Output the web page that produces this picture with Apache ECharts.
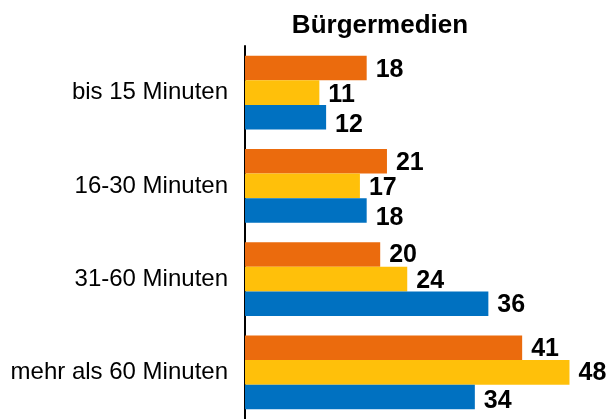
<!DOCTYPE html>
<html>
<head>
    <meta charset="utf-8">
    <title>Bürgermedien</title>
    <script src="https://cdn.jsdelivr.net/npm/echarts@6/dist/echarts.min.js"></script>
    <style>
      html, body { margin: 0; padding: 0; background: #fff; }
    </style>
</head>
<body>
    <div id="main" style="width: 611px;height:419px;"></div>
    <script type="text/javascript">
      // Kategorien und Werte
      var categories = ['bis 15 Minuten', '16-30 Minuten', '31-60 Minuten', 'mehr als 60 Minuten'];
      var orangeValues = [18, 21, 20, 41];
      var yellowValues = [11, 17, 24, 48];
      var blueValues = [12, 18, 36, 34];

      var font = 'Liberation Sans, Arial, sans-serif';

      // Beschriftungen leicht nach unten versetzt, wie im Original
      function barSeries(data, color, shifts) {
        return {
          type: 'bar',
          data: data.map(function (v, i) {
            return { value: v, label: { offset: [0, shifts[i]] } };
          }),
          barGap: '0%',
          barCategoryGap: '21%',
          itemStyle: { color: color },
          label: {
            show: true,
            position: 'right',
            distance: 9,
            color: '#000',
            fontFamily: font,
            fontWeight: 'bold',
            fontSize: 25
          }
        };
      }

      var myChart = echarts.init(document.getElementById('main'));
      var option = {
        animation: false,
        title: {
          text: 'Bürgermedien',
          left: 375,
          top: 8,
          textAlign: 'center',
          textStyle: { fontFamily: font, fontWeight: 'bold', fontSize: 26, color: '#000' }
        },
        grid: { left: 245, top: 46, width: 338, height: 378, containLabel: false },
        xAxis: {
          type: 'value',
          min: 0,
          max: 50,
          show: false
        },
        yAxis: {
          type: 'category',
          data: categories,
          inverse: true,
          axisLine: { show: true, lineStyle: { color: '#000', width: 2 } },
          axisTick: { show: false },
          axisLabel: { color: '#000', fontFamily: font, fontSize: 24, margin: 17 }
        },
        series: [
          barSeries(orangeValues, '#EB6B0D', [2, 2, 1, 1]),
          barSeries(yellowValues, '#FFC00A', [2, 2, 2, 1]),
          barSeries(blueValues, '#0071C1', [8, 8, 1, 4])
        ]
      };
      myChart.setOption(option);
    </script>
</body>
</html>
